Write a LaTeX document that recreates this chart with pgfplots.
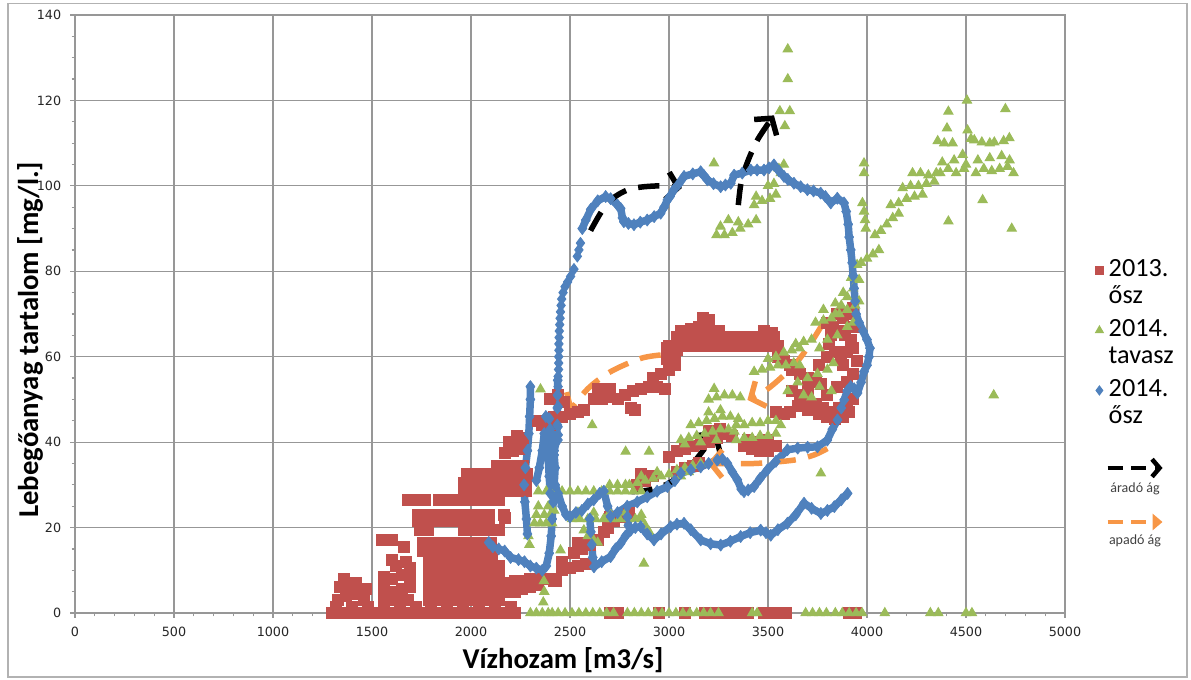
\documentclass[border=0pt]{standalone}
\usepackage{fontspec}
\setmainfont{Carlito}
\newfontfamily\tickfont{DejaVu Sans}
\usepackage{pgfplots}
\pgfplotsset{compat=1.18}
\usetikzlibrary{arrows.meta}
\definecolor{cRed}{HTML}{C0504D}
\definecolor{cGreen}{HTML}{9BBB59}
\definecolor{cBlue}{HTML}{4F81BD}
\definecolor{cOrange}{HTML}{F79646}
\definecolor{cGrid}{HTML}{979797}
\begin{document}
\begin{tikzpicture}
\useasboundingbox (-30pt,-26.8pt) rectangle (446.4pt,245.2pt);
\draw[black!30, line width=0.5pt] (-26.8pt,-25.6pt) rectangle (444.8pt,243.8pt);
\begin{axis}[
  at={(0,0)}, anchor=south west,
  scale only axis, width=396pt, height=239.2pt,
  xmin=0, xmax=5000, ymin=0, ymax=140,
  xtick={0,500,...,5000}, ytick={0,20,...,140},
  minor x tick num=4, minor y tick num=3,
  grid=major, major grid style={cGrid, line width=0.5pt},
  axis line style={cGrid, line width=0.5pt},
  tick style={cGrid, line width=0.5pt},
  tick align=outside, xtick pos=left, ytick pos=left,
  major tick length=2pt, minor tick length=1.4pt,
  tick label style={font=\tickfont\fontsize{5.1}{6}\selectfont, text=black!85},
  /pgf/number format/assume math mode=true,
  /pgf/number format/1000 sep={},
  scaled x ticks=false,
  xlabel={Vízhozam [m3/s]},
  ylabel={Lebegőanyag tartalom [mg/l.]},
  label style={font=\bfseries\fontsize{11.5}{13}\selectfont},
  xlabel style={at={(axis description cs:0.493,-0.0786)}, anchor=center},
  ylabel style={at={(axis description cs:-0.0455,0.457)}, anchor=center},
  legend image code/.code={\draw[#1] plot coordinates {(0pt,0pt)};},
  legend style={at={(axis description cs:1.030,0.596)}, anchor=north west,
    draw=none, fill=none, font=\fontsize{10.5}{12}\selectfont,
    row sep=0pt, column sep=1.5pt, inner sep=0pt,
    nodes={inner sep=0.5pt, text height=7.3pt, text depth=2.4pt}},
  legend cell align=left,
]
\addlegendimage{only marks, mark=square*, mark size=1.7pt, color=cRed}
\addlegendentry{2013.}
\addlegendimage{empty legend}
\addlegendentry[text depth=5pt]{ősz}
\addlegendimage{only marks, mark=triangle*, mark size=1.8pt, color=cGreen}
\addlegendentry{2014.}
\addlegendimage{empty legend}
\addlegendentry[text depth=5pt]{tavasz}
\addlegendimage{only marks, mark=diamond*, mark size=1.8pt, color=cBlue}
\addlegendentry{2014.}
\addlegendimage{empty legend}
\addlegendentry{ősz}

% ---------- 2013. osz (red squares)
\addplot[forget plot, only marks, mark=square*, mark size=2.2pt, color=cRed, mark options={draw=none, fill=cRed}] coordinates {
(1300,0)(1340,0)(1380,0)(1420,0)(1460,0)(1500,0)(1540,0)(1580,0)(1620,0)(1660,0)(1700,0)(1740,0)(1780,0)(1820,0)(1860,0)(1900,0)(1940,0)(1980,0)(2020,0)(2060,0)(2100,0)(2140,0)(2180,0)(2220,0)
(1320,1.5)(1400,1.5)(1480,1.5)(1560,1.5)(1640,1.5)(1720,1.5)(1800,1.5)(1880,1.5)(1960,1.5)(2040,1.5)(2120,1.5)(2200,1.5)
(1330,3)(1370,4)(1410,4.5)(1450,5)(1340,6)(1380,6.5)(1420,7)(1360,8)(1470,5.5)(1460,3)
(1560,3)(1600,3)(1640,3)(1680,3)(1560,5.5)(1600,5)(1650,5.5)(1690,6)(1600,8)(1650,9)(1690,8)(1620,11)(1670,12)(1600,12.5)(1690,10.5)(1560,8.5)
(1790,3)(1835,3)(1880,3)(1925,3)(1970,3)(2015,3)(2060,3)(2105,3)(2140,3)
(1790,5)(1835,5)(1880,5)(1925,5)(1970,5)(2015,5)(2060,5)(2105,5)(2140,5)
(1790,7)(1835,7)(1880,7)(1925,7)(1970,7)(2015,7)(2060,7)(2105,7)(2140,7)
(1790,9)(1835,9)(1880,9)(1925,9)(1970,9)(2015,9)(2060,9)(2105,9)(2140,9)
(1790,11)(1835,11)(1880,11)(1925,11)(1970,11)(2015,11)(2060,11)(2105,11)(2140,11)
(1790,12.5)(1835,12.5)(1880,12.5)(1925,12.5)(1970,12.5)(2015,12.5)(2060,12.5)(2105,12.5)
(2180,5)(2220,5)(2260,5.5)(2300,6)(2340,6.5)(2180,7)(2220,7.5)(2260,7.5)(2300,8)(2340,8)(2380,8)(2420,7.5)
(1760,14.5)(1805,14.5)(1850,14.5)(1895,14.5)(1940,14.5)(1985,14.5)(2030,14.5)(2075,14.5)(2100,14.5)
(1760,16.5)(1805,16.5)(1850,16.5)(1895,16.5)(1940,16.5)(1985,16.5)(2030,16.5)(2075,16.5)(2100,16.5)
(1600,17)(1660,15.5)(1550,17)
(1740,19.5)(1785,19.5)(1965,19.5)(2010,19.5)(2055,19.5)(2100,19.5)(2140,19.5)
(1730,21.5)(1775,21.5)(1820,21.5)(1865,21.5)(1910,21.5)(1955,21.5)(2000,21.5)(2045,21.5)(2090,21.5)
(1730,23)(1775,23)(1820,23)(1865,23)(1910,23)(1955,23)(2000,23)(2045,23)(2090,23)
(2174,22.3)(2061,21)(2165,23)
(1680,26.5)(1725,26.5)(1770,26.5)(1840,26.5)(1885,26.5)(1930,26.5)(1975,26.5)(2020,26.5)(2065,26.5)(2110,26.5)(2140,26.5)
(1965,28.5)(2010,28.5)(2055,28.5)(2100,28.5)(2145,28.5)(2190,28.5)(2235,28.5)(2280,28.5)
(1965,30.5)(2010,30.5)(2055,30.5)(2100,30.5)(2145,30.5)(2190,30.5)(2235,30.5)(2280,30.5)
(1980,32.5)(2025,32.5)(2070,32.5)(2115,32.5)(2160,32.5)(2205,32.5)(2250,32.5)(2284,32.5)
(2130,34.5)(2175,34.5)(2220,34.5)(2265,34.5)
(2170,37.5)(2210,38)(2250,38.5)(2190,40)(2230,40)(2230,41.5)(2265,41)
(2370,8)(2400,8)(2430,7.5)(2460,10)(2500,10.5)(2540,11)(2580,11.5)(2460,12)(2520,14)(2560,15)(2600,16)(2640,17)(2670,19)(2540,16.5)(2580,16.5)(2690,20)(2720,21.5)(2760,22.5)(2800,23.5)(2700,22.5)
(2840,30)(2880,31)(2920,32)(2860,32.5)(3040,33)(3080,34)(3120,34.5)(3150,35)
(3040,38)(3080,38.5)(3120,39)(3160,39.5)(3200,40)(3240,41)(3280,42)(3320,41.5)(3200,42.5)(3260,43)(3380,39)(3420,38.5)(3460,38)(3500,38)(3540,39)(3400,40.5)(3450,40)(3500,40.5)(3000,36.5)
(2340,45)(2380,45)(2420,46)(2460,46)(2500,46.5)(2540,47)(2570,47.5)(2360,44)(2400,44)(2400,50)(2440,51)(2470,49.5)
(2620,50)(2660,50)(2700,50.5)(2740,50)(2780,51)(2820,52)(2860,52.5)(2900,53)(2940,53)(2980,52.5)(2640,52.5)(2700,52.5)(2810,48)(2830,47.5)
(2920,55)(2960,56)(3000,57)(3030,58)(2990,59.5)(3030,60.5)(2990,62)(3040,61.5)
(3000,62.5)(3040,62.5)(3080,62.5)(3120,62.5)(3160,62.5)(3200,62.5)(3240,62.5)(3280,62.5)(3320,62.5)(3360,62.5)(3400,62.5)(3440,62.5)(3480,62.5)(3520,62.5)(3550,62.5)
(3040,64.5)(3090,64.5)(3140,64.5)(3190,64.5)(3240,64.5)(3290,64.5)(3340,64.5)(3390,64.5)(3440,64.5)(3490,64.5)(3530,64.5)
(3060,66)(3110,66.5)(3150,67)(3200,67)(3250,66)(3170,69)(3200,68.5)(3480,66)(3520,65.5)
(3550,60)(3580,59)(3610,58)(3620,57)(3660,56)(3700,55)(3740,54)(3770,53.5)(3620,52)(3660,51)(3700,50)(3740,49)(3780,48)(3820,47)(3860,48)(3900,49)(3930,50)
(3650,48.5)(3700,47.5)(3760,46.5)(3800,46)(3840,45.5)(3880,46)(3910,47)(3540,47)(3580,46.5)(3610,47)(3700,52.5)(3800,51)(3850,53)(3900,54)(3930,56)(3880,58)(3760,58)(3800,60)
(3800,68)(3830,67)(3860,66)(3890,65)(3920,64)(3930,62)(3900,61)(3870,60)(3840,61)(3810,63)(3880,69)(3910,70)(3930,71.5)(3850,70)(3820,65)(3940,67)(3950,59)
(2700,0)(2740,0)(2950,0)(3080,0)(3180,0)(3240,0)(3290,0)(3330,0)(3370,0)(3400,0)(3480,0)(3520,0)(3560,0)(3590,0)(3910,0)(3945,0)
};

% ---------- 2014. tavasz (green triangles)
\addplot[forget plot, only marks, mark=triangle*, mark size=2.1pt, color=cGreen, mark options={draw=none, fill=cGreen}] coordinates {
(2300,0)(2330,0)(2360,0)(2390,0)(2410,0)(2365,2.5)(2370,5)(2368,7.5)(2440,0)(2475,0)(2510,0)(2545,0)(2580,0)(2615,0)(2650,0)(2685,0)(2720,0)
(2790,0)(2825,0)(2860,0)(2895,0)(2930,0)(2965,0)(3000,0)(3035,0)(3070,0)(3105,0)(3140,0)(3175,0)(3210,0)(3250,0)(3420,0)(3445,0)
(3690,0)(3725,0)(3760,0)(3795,0)(3840,0)(3875,0)(3910,0)(3945,0)(3975,0)(4090,0)(4320,0)(4360,0)(4500,0)(4530,0)
(2351,52.4)(2612,44)(2781,37.8)(2899,37.8)
(2340,28.5)(2380,28.5)(2420,28.5)(2460,28.5)(2500,28.5)(2540,28.5)(2580,28.5)(2620,28.5)(2660,28.5)(2700,28.5)(2740,28.5)(2780,28.5)(2820,28.5)(2860,28.5)
(2700,30)(2740,30)(2780,30)
(2320,21)(2350,21)(2380,21)(2410,21)(2330,23)(2370,23)(2400,23)(2340,25)(2390,25)(2420,24)
(2510,22)(2550,22)(2590,22)(2630,22)(2670,22)(2710,22)(2750,22)(2790,22)(2830,22)(2860,22)
(2540,23.5)(2620,23.5)(2700,23.5)(2780,23.5)
(2590,18)(2620,17)(2640,16.5)(2290,18)(2295,16)(2452,14.7)(2570,19.4)(2860,23)(2880,20.5)(2900,19)(2873,11.6)
(2800,30)(2840,30.5)(2880,31)(2920,31.5)(2960,32)(3000,32.5)(2860,32)(2940,33)
(3040,33.5)(3080,34)(3120,34.5)(3160,35)(3060,32)(3100,33)
(3060,40.5)(3100,41)(3140,41.5)(3180,42)(3220,42.5)(3260,43)(3300,43)(3330,42.5)(3080,39.5)(3160,40)(3240,40.5)
(3110,44)(3150,44.5)(3190,45)(3230,45.5)(3270,46)(3310,46)(3350,45.5)(3200,47)(3260,47.5)
(3200,50)(3240,50.5)(3280,51)(3320,51)(3360,50.5)(3228,52.5)
(3340,44)(3380,44)(3420,44.5)(3460,44.5)(3500,45)(3540,45)(3565,44)
(3340,40.5)(3380,41)(3420,41)(3460,41.5)(3500,41.5)(3540,42)
(3430,56.5)(3470,57)(3510,57.5)(3550,58)(3590,58)(3630,58.5)(3660,58)
(3500,59.5)(3540,60)(3580,61)(3620,61.5)(3660,62)
(3640,63)(3680,63.5)(3720,64)
(3740,68)(3780,68.5)(3820,69)(3860,70)(3900,71)(3940,72)(3960,73)(3780,71)(3840,72.5)
(3600,52)(3650,54)(3700,55)(3750,56)(3800,57)(3830,58.5)(3680,51)(3760,53)(3820,52)(3720,50.5)
(3767,32.7)
(3240,88.5)(3280,88.5)(3320,89)(3360,90)(3400,91)(3440,92)(3260,90.5)(3350,91.5)(3300,92)(3227,105.3)
(3430,95.5)(3470,96.5)(3510,97)(3540,98)(3500,100)(3530,100.5)(3440,97.5)(3555,104)(3580,105)(3565,103)
(3600,132)(3600,125)(3560,117.5)(3610,117.5)(3585,114)
(3950,81.5)(3970,82)(4000,83)(4030,84)(4060,85)(3840,70)(3870,72)(3900,74)(3930,76)(3960,78)(3880,75)(3920,78.5)
(3760,62)(3800,64)(3850,65)(3900,67)(3930,68)
(3985,105.3)(3985,103)(3977,96)(3985,94)(3990,92)(3994,90)
(4040,88.5)(4070,89.5)(4100,91)(4130,92.5)(4160,93.5)
(4120,95.5)(4160,96)(4200,97)(4240,97.5)(4280,98)
(4180,99.5)(4220,100)(4260,100)(4300,100.5)(4340,101)
(4230,103)(4270,103)(4310,102.5)(4350,103)
(4370,103)(4410,104)(4450,103)(4490,104)(4380,105.5)(4440,106)(4500,105)
(4550,103)(4590,104)(4630,103.5)(4670,104)(4710,104.5)(4740,103)(4560,106)(4620,106.5)(4680,107)(4720,106)(4483,107.3)
(4357,110.5)(4390,110)(4432,110)(4508,113)(4525,111)(4542,110.7)(4580,110.2)(4620,110)(4643,110.2)(4690,110.5)(4719,111.2)
(4404,113.5)(4411,117.4)(4505,120)(4699,118)(4584,96.7)(4411,91.7)(4731,90)(4640,51)
};

% ---------- 2014. osz (blue diamonds)
\pgfplotsset{bluepath/.style={forget plot, color=cBlue, line width=3pt, line join=round, line cap=round, mark=diamond*, mark size=2.4pt, mark options={solid, line width=0.3pt, fill=cBlue}}}
\addplot[bluepath] coordinates {
(2090,16.5)(2110,15.5)(2140,15)(2170,14.5)(2200,13)(2240,12.5)(2270,12)(2300,11)(2330,10.5)(2360,10)(2380,11)(2395,14)(2405,18)(2410,22)(2415,26)(2420,30)(2425,34)(2420,37)(2410,40)(2400,43)(2395,45.5)(2405,42)(2420,38)(2430,40)(2436,44)(2436,48)(2437,51)(2438,54.5)
};
\addplot[bluepath] coordinates {
(2285,18.5)(2280,22)(2272,26)(2268,30)(2275,34)(2285,38)(2292,42)(2296,46)(2300,50)(2300,53)
};
\addplot[bluepath] coordinates {
(2330,31)(2345,34)(2360,38)(2370,42)(2378,46)(2385,42)(2390,36)(2395,32)(2400,28)
};
\addplot[bluepath] coordinates {
(2425,30)(2440,28)(2460,25)(2480,23)(2500,22.5)(2530,23.5)(2560,24)(2590,25.5)(2620,26.5)(2650,28)(2671,28.5)(2690,25)(2705,22.6)(2740,23.5)(2789,25)(2840,26)(2890,27.2)(2940,28.5)(2992,29.6)(3030,31)(3060,32.7)(3110,33.5)(3160,34.2)(3200,35)(3244,35.8)(3270,36)(3295,35)(3320,33)(3345,31.2)(3365,29)(3379,28.4)(3400,28.8)(3430,29.6)(3460,31.5)(3497,33.5)(3540,35.5)(3598,38.2)(3650,38.6)(3700,38.8)(3750,38.9)(3800,40.5)(3825,43)(3851,45.2)(3870,48)(3885,49.9)(3900,52)(3918,53)(3935,52.5)(3952,51.5)(3970,54)(3985,56.5)(4000,58)(4010,60)(4015,62)(4000,64)(3980,66)(3960,68)(3945,70)(3940,73)(3935,76)(3930,79)(3925,82)(3918,85)(3910,88)(3905,91)(3895,94)(3884,96)(3850,97.1)(3817,96)(3790,97.5)(3766,98.3)(3730,98.8)(3699,99.1)(3665,99.8)(3631,100.6)(3600,101.5)(3581,102.2)(3555,103.5)(3530,104.9)(3505,104.2)(3480,103.7)(3445,103.7)(3413,103.7)(3370,103)(3329,102.5)(3312,100.6)(3285,100.2)(3261,99.8)(3225,100.5)(3194,101.4)(3175,102.5)(3160,103.3)(3120,102.8)(3076,102.2)(3050,100.5)(3025,99.1)(3005,97.5)(2992,96.7)(2975,95)(2958,93.6)(2925,92.8)(2890,92)(2855,91.5)(2823,90.9)(2795,91.2)(2772,91.6)(2765,92.5)(2756,94.7)(2740,95.5)(2705,97)(2680,97.5)(2640,96.5)(2605,94.5)(2580,92)(2562,90)
};
\addplot[bluepath] coordinates {
(2600,22)(2605,19)(2610,16)(2615,13)(2621,10.8)(2660,12)(2705,13.2)(2730,15)(2756,16.3)(2780,18)(2806,19.4)(2830,20)(2857,20.2)(2890,18.5)(2924,17.1)(2960,18.5)(3008,20.2)(3040,20.8)(3076,21)(3110,19.5)(3160,17.1)(3210,16.2)(3261,15.9)(3310,16.8)(3362,17.9)(3410,18.8)(3463,19.4)(3490,18.8)(3514,18.2)(3550,19.5)(3598,21)(3640,23)(3682,25.7)(3720,24.5)(3767,23.3)(3800,24)(3835,24.9)(3870,26.5)(3902,28)
};
\addplot[bluepath] coordinates {(2790,22.5)(2795,20.5)(2806,19.4)};
\addplot[forget plot, only marks, color=cBlue, mark=diamond*, mark size=2.2pt, mark options={fill=cBlue}] coordinates {
(2553,86.6)(2545,85)(2537,83.5)(2520,80.5)(2503,78.8)(2488,77.5)(2475,76.4)(2465,75)(2458,73.5)(2455,72)(2452,70.5)(2450,69)(2448,67.5)(2446,66)(2445,64.5)(2444,63)(2444,61.5)(2443,60)(2443,58.5)(2442,57)(2440,55.4)(2440,53)(2441,48.3)(2440,43.6)(2441,41.7)(2440,40.5)
};

% ---------- arrows
\pgfplotsset{arr/.style={forget plot, line width=2.2pt, dash pattern=on 8.5pt off 5pt, smooth, -{Straight Barb[length=4.5pt,width=11pt,line width=2.2pt]}}}
\addplot[arr, black] coordinates {(2604,89.5)(2690,96)(2800,99.2)(2950,100)(3065,99.5)};
\addplot[arr, black] coordinates {(3350,95.5)(3365,101)(3400,106)(3450,111)(3530,116.5)};
\addplot[arr, black] coordinates {(2810,28.4)(2900,28.8)(3000,30.4)(3100,34)(3180,38.5)(3244,42.5)};
\addplot[arr, cOrange] coordinates {(2958,60.4)(2857,59.6)(2705,56.5)(2590,52.5)(2494,47)};
\addplot[arr, cOrange] coordinates {(3780,68)(3716,63.2)(3632,58)(3500,52.5)(3396,49.9)};
\addplot[arr, cOrange] coordinates {(3800,38.5)(3733,37)(3632,35.8)(3430,35)(3194,35)};
\end{axis}
% legend for arrows
\draw[black, line width=1.8pt, dash pattern=on 6pt off 3.5pt, -{Straight Barb[length=3pt,width=7pt,line width=1.8pt]}] (413pt,58pt) -- (435pt,58pt);
\node[font=\fontsize{5.6}{6.5}\selectfont, text=black!75] at (424pt,49.6pt) {áradó ág};
\draw[cOrange, line width=1.8pt, dash pattern=on 6pt off 3.5pt, -{Triangle[length=4pt,width=6.5pt]}] (413pt,36.4pt) -- (435pt,36.4pt);
\node[font=\fontsize{5.6}{6.5}\selectfont, text=black!75] at (424pt,28.8pt) {apadó ág};
\end{tikzpicture}
\end{document}
